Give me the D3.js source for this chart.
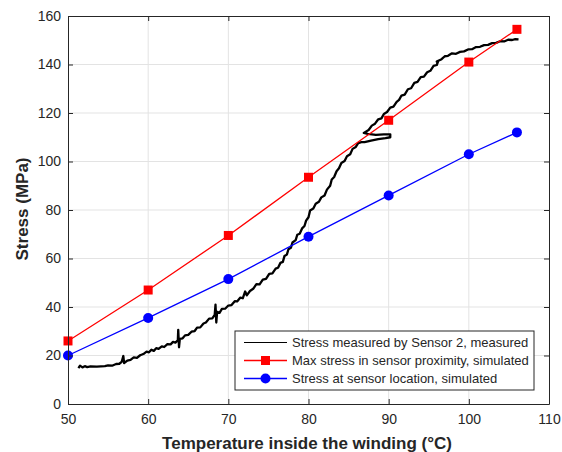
<!DOCTYPE html>
<html>
<head>
<meta charset="utf-8">
<script src="https://cdn.jsdelivr.net/npm/d3@7"></script>
<style>
	body { margin: 0; background: #fff; }
	svg { display: block; font-family: Arial, "Liberation Sans", sans-serif; }
</style>
</head>
<body>
<svg id="chart" width="562" height="452"></svg>
<script>
// simulated values
const simTemp = [50, 60, 70, 80, 90, 100, 106];
const maxStress = [26, 47, 69.5, 93.5, 117, 141, 154.5];
const locStress = [20, 35.5, 51.5, 69, 86, 103, 112];

// measured curve (noisy trace)
const measTemp = [51.3, 51.5, 51.8, 52.1, 52.4, 52.8, 53.6, 54.6, 55.0, 55.5, 56.0, 56.4, 56.7, 56.9, 57.0,
	57.4, 57.8, 58.2, 58.6, 59.0, 59.4, 59.8, 60.1, 60.4, 60.7, 61.0, 61.3, 61.7, 62.0, 62.4, 62.8,
	63.1, 63.4, 63.7, 63.75, 63.85, 63.95, 64.3, 64.6, 65.0, 65.4, 65.8, 66.1, 66.5, 66.9, 67.2, 67.6,
	68.0, 68.3, 68.4, 68.5, 68.6, 68.9, 69.2, 69.6, 70.0, 70.4, 70.8, 71.1, 71.5, 71.8, 72.1, 72.3,
	72.7, 73.1, 73.5, 73.9, 74.3, 74.7, 75.1, 75.5, 75.9, 76.2, 76.5, 76.8, 77.0, 77.3, 77.5, 77.8,
	78.0, 78.4, 78.6, 78.9, 79.2, 79.5, 79.7, 80.0, 80.2, 80.6, 80.9, 81.3, 81.6, 82.0, 82.3, 82.7,
	82.9, 83.2, 83.5, 83.8, 84.1, 84.5, 84.8, 85.2, 85.5, 85.9, 86.2, 86.6, 87.0, 87.8, 88.7, 89.6,
	90.2, 90.2, 89.4, 88.4, 87.4, 86.9, 87.5, 87.9, 88.3, 88.7, 89.1, 89.4, 89.8, 90.2, 90.6, 91.0,
	91.3, 91.6, 92.0, 92.4, 92.8, 93.2, 93.6, 94.0, 94.4, 94.8, 95.2, 95.6, 96.0, 96.2, 96.0, 96.6,
	97.0, 97.4, 97.9, 98.4, 98.9, 99.4, 99.9, 100.4, 100.9, 101.4, 101.9, 102.4, 102.9, 103.4, 103.9,
	104.4, 104.9, 105.4, 105.8, 106.2];
const measStress = [14.8, 15.8, 15.1, 15.6, 15.2, 15.5, 15.4, 15.6, 15.9, 15.8, 16.5, 16.6, 17.4, 19.8, 16.9,
	17.9, 18.2, 19.2, 19.0, 20.1, 20.6, 21.6, 21.3, 22.4, 21.9, 23.0, 22.7, 23.8, 23.5, 24.7, 24.6,
	25.6, 25.3, 26.3, 30.6, 23.4, 26.9, 27.1, 28.3, 28.5, 29.8, 30.1, 31.5, 31.6, 33.2, 33.6, 35.2,
	35.3, 36.8, 41.0, 33.6, 38.0, 37.6, 39.2, 39.3, 40.6, 40.8, 42.4, 42.3, 43.9, 43.6, 46.4, 44.8,
	46.6, 47.5, 49.4, 49.3, 51.3, 51.6, 53.7, 53.9, 55.8, 56.2, 58.2, 58.6, 61.0, 61.6, 63.8, 64.4,
	66.6, 67.6, 69.8, 70.2, 72.4, 73.4, 75.6, 77.0, 79.8, 80.6, 82.6, 83.4, 85.2, 86.0, 88.4, 90.0,
	92.6, 93.6, 96.0, 97.2, 99.4, 100.2, 102.2, 103.0, 105.2, 106.0, 107.6, 108.0, 108.0, 108.6, 109.2, 109.6,
	110.0, 111.2, 111.2, 111.0, 111.4, 111.8, 113.0, 114.8, 115.6, 117.4, 117.8, 119.6, 120.4, 122.2, 122.6, 124.6,
	125.4, 127.2, 127.6, 129.8, 130.2, 132.4, 132.8, 134.8, 135.0, 136.8, 137.4, 139.4, 139.8, 141.6, 141.2, 142.2,
	143.4, 143.6, 144.6, 144.4, 145.2, 145.4, 146.2, 146.3, 147.2, 147.3, 148.0, 148.1, 148.8, 148.9, 149.6,
	149.5, 150.2, 150.1, 150.5, 150.4];

const xTicks = [50, 60, 70, 80, 90, 100, 110];
const yTicks = [0, 20, 40, 60, 80, 100, 120, 140, 160];
const legendLabels = ["Stress measured by Sensor 2, measured", "Max stress in sensor proximity, simulated", "Stress at sensor location, simulated"];

const box = { left: 68, top: 16, right: 549, bottom: 404 };
const axisColor = "#262626";

function draw() {
	const svg = d3.select("#chart");
	const x = d3.scaleLinear().domain([50, 110]).range([box.left, box.right]);
	const y = d3.scaleLinear().domain([0, 160]).range([box.bottom, box.top]);

	svg.append("rect").attr("x", box.left).attr("y", box.top)
		.attr("width", box.right - box.left).attr("height", box.bottom - box.top)
		.attr("fill", "#fff");

	// grid
	const grid = svg.append("g").attr("stroke", "#e3e3e3").attr("stroke-width", 1);
	grid.selectAll(".gx").data(xTicks.slice(1, -1)).enter().append("line")
		.attr("x1", d => x(d)).attr("x2", d => x(d)).attr("y1", box.top).attr("y2", box.bottom);
	grid.selectAll(".gy").data(yTicks.slice(1, -1)).enter().append("line")
		.attr("y1", d => y(d)).attr("y2", d => y(d)).attr("x1", box.left).attr("x2", box.right);

	// measured trace
	const meas = measTemp.map((t, i) => [t, measStress[i]]);
	const line = d3.line().x(d => x(d[0])).y(d => y(d[1]));
	svg.append("path").datum(meas).attr("d", line)
		.attr("fill", "none").attr("stroke", "#000").attr("stroke-width", 2.3)
		.attr("stroke-linejoin", "round");

	const red = simTemp.map((t, i) => [t, maxStress[i]]);
	const blue = simTemp.map((t, i) => [t, locStress[i]]);
	svg.append("path").datum(red).attr("d", line).attr("fill", "none").attr("stroke", "#ff0000").attr("stroke-width", 1.3);
	svg.append("path").datum(blue).attr("d", line).attr("fill", "none").attr("stroke", "#0000ff").attr("stroke-width", 1.3);

	svg.selectAll(".sq").data(red).enter().append("rect")
		.attr("x", d => x(d[0]) - 4.5).attr("y", d => y(d[1]) - 4.5)
		.attr("width", 9).attr("height", 9).attr("fill", "#ff0000");
	svg.selectAll(".dot").data(blue).enter().append("circle")
		.attr("cx", d => x(d[0])).attr("cy", d => y(d[1])).attr("r", 5).attr("fill", "#0000ff");

	// axes, ticks pointing inward
	const fmt = d3.format("d");
	const gx = svg.append("g").attr("transform", "translate(0," + box.bottom + ")")
		.call(d3.axisBottom(x).tickValues(xTicks).tickFormat(fmt).tickSizeInner(-5).tickSizeOuter(0).tickPadding(10));
	const gy = svg.append("g").attr("transform", "translate(" + box.left + ",0)")
		.call(d3.axisLeft(y).tickValues(yTicks).tickFormat(fmt).tickSizeInner(-5).tickSizeOuter(0).tickPadding(7));
	const gt = svg.append("g").attr("transform", "translate(0," + box.top + ")")
		.call(d3.axisTop(x).tickValues(xTicks).tickFormat("").tickSizeInner(-5).tickSizeOuter(0));
	const gr = svg.append("g").attr("transform", "translate(" + box.right + ",0)")
		.call(d3.axisRight(y).tickValues(yTicks).tickFormat("").tickSizeInner(-5).tickSizeOuter(0));
	[gx, gy, gt, gr].forEach(g => {
		g.select(".domain").attr("stroke", axisColor);
		g.selectAll(".tick line").attr("stroke", axisColor);
		g.selectAll("text").attr("fill", axisColor).style("font-size", "14px").style("font-family", "Arial, 'Liberation Sans', sans-serif");
	});

	// axis titles
	svg.append("text").attr("x", 307).attr("y", 449)
		.attr("text-anchor", "middle").attr("font-weight", "bold").attr("font-size", 17)
		.attr("fill", axisColor).text("Temperature inside the winding (°C)");
	svg.append("text").attr("transform", "translate(28,209) rotate(-90)")
		.attr("text-anchor", "middle").attr("font-weight", "bold").attr("font-size", 17)
		.attr("fill", axisColor).text("Stress (MPa)");

	drawLegend(svg);
}

function drawLegend(svg) {
	const lg = svg.append("g").attr("transform", "translate(235,331)");
	lg.append("rect").attr("width", 299).attr("height", 59)
		.attr("fill", "#fff").attr("stroke", axisColor).attr("stroke-width", 1);
	const colors = ["#000", "#ff0000", "#0000ff"];
	legendLabels.forEach((label, i) => {
		const cy = 11.5 + i * 18;
		lg.append("line").attr("x1", 9).attr("x2", 52).attr("y1", cy).attr("y2", cy)
			.attr("stroke", colors[i]).attr("stroke-width", i == 0 ? 1 : 1.3);
		if (i == 1) {
			lg.append("rect").attr("x", 26).attr("y", cy - 4.5).attr("width", 9).attr("height", 9).attr("fill", colors[i]);
		}
		if (i == 2) {
			lg.append("circle").attr("cx", 30.5).attr("cy", cy).attr("r", 5).attr("fill", colors[i]);
		}
		lg.append("text").attr("x", 57).attr("y", cy + 4.5).attr("font-size", 13)
			.attr("fill", axisColor).text(label);
	});
}

draw();
</script>
</body>
</html>
